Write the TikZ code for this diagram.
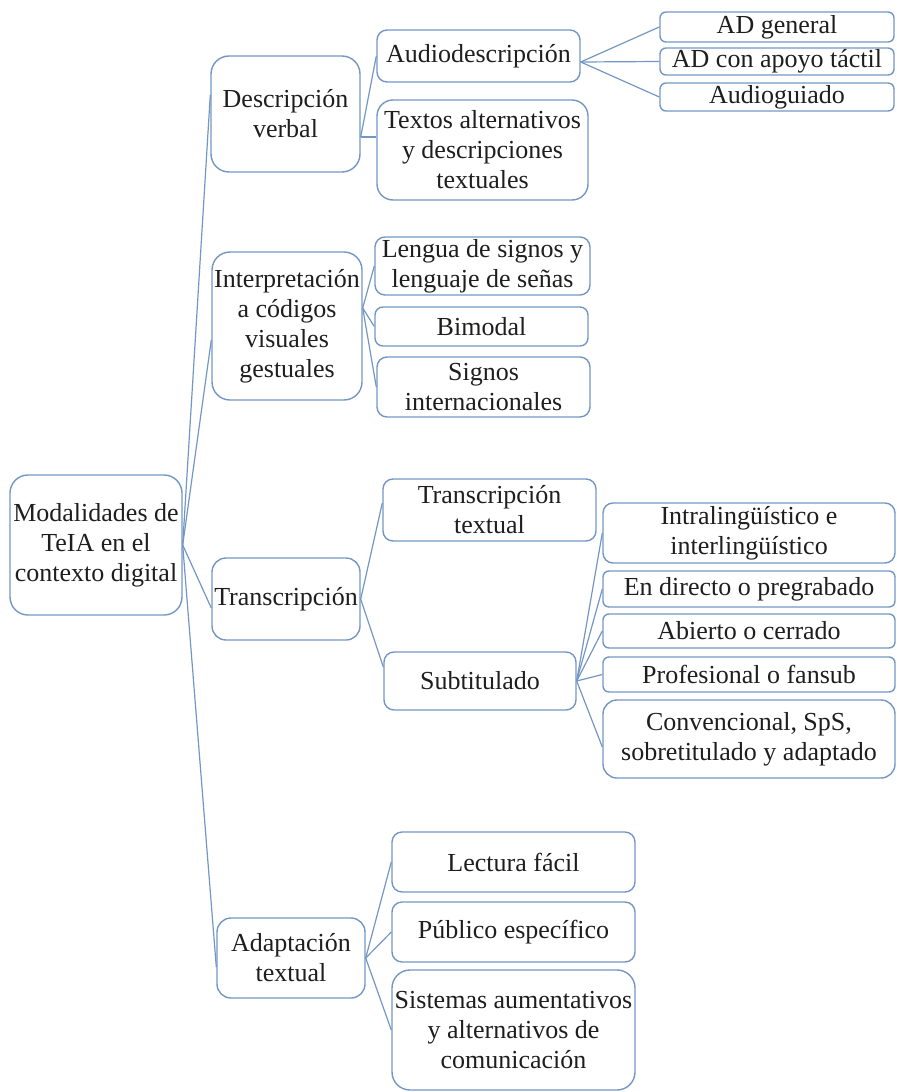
\documentclass[tikz,border=0pt]{standalone}
\usepackage{fontspec}
\setmainfont{Liberation Serif}
\definecolor{lineblue}{RGB}{115,150,196}
\definecolor{txtgray}{RGB}{30,30,30}
\tikzset{
  box/.style={draw=lineblue, line width=0.7pt, rounded corners=#1, inner sep=0pt, align=center, text=txtgray, font=\fontsize{13}{15}\selectfont},
  box/.default=4pt,
  conn/.style={draw=lineblue, line width=0.6pt}
}
\begin{document}
\begin{tikzpicture}[x=0.5pt, y=-0.5pt]
            \useasboundingbox (0,0) rectangle (897,1092);
            \node[box=9pt, minimum width=86pt, minimum height=70pt] (root) at (96,545) {Modalidades de\\TeIA en el\\contexto digital};
            \node[box=9pt, minimum width=74.5pt, minimum height=58pt] (dv) at (285.5,114) {Descripción\\verbal};
            \node[box=9pt, minimum width=75pt, minimum height=74pt] (interp) at (287,326) {Interpretación\\a códigos\\visuales\\gestuales};
            \node[box=7pt, minimum width=74pt, minimum height=41pt] (trans) at (286,599) {Transcripción};
            \node[box=7pt, minimum width=74pt, minimum height=40pt] (adapt) at (291,958) {Adaptación\\textual};
            \node[box=5pt, minimum width=101.5pt, minimum height=26pt] (audio) at (478.5,56) {Audiodescripción};
            \node[box=8pt, minimum width=105.5pt, minimum height=50pt] (textos) at (482.5,150) {Textos alternativos\\y descripciones\\textuales};
            \node[box=5pt, minimum width=107.5pt, minimum height=29pt] (lengua) at (482.5,266) {Lengua de signos y\\lenguaje de señas};
            \node[box=4pt, minimum width=106.5pt, minimum height=19.5pt] (bimodal) at (481.5,326.5) {Bimodal};
            \node[box=5pt, minimum width=106.5pt, minimum height=30pt] (signos) at (483.5,387) {Signos\\internacionales};
            \node[box=5pt, minimum width=106.5pt, minimum height=31pt] (ttext) at (489.5,510) {Transcripción\\textual};
            \node[box=5pt, minimum width=96pt, minimum height=29pt] (subt) at (480,681) {Subtitulado};
            \node[box=5pt, minimum width=121.5pt, minimum height=30pt] (lectura) at (513.5,862) {Lectura fácil};
            \node[box=5pt, minimum width=121.5pt, minimum height=30pt] (publico) at (513.5,932) {Público específico};
            \node[box=9pt, minimum width=121.5pt, minimum height=60pt] (sistemas) at (513.5,1030) {Sistemas aumentativos\\y alternativos de\\comunicación};
            \node[box=3pt, minimum width=117pt, minimum height=15pt] (adgen) at (777,27) {AD general};
            \node[box=3pt, minimum width=117pt, minimum height=13.5pt] (adcon) at (777,61.5) {AD con apoyo táctil};
            \node[box=3pt, minimum width=117pt, minimum height=14pt] (audiog) at (777,97) {Audioguiado};
            \node[box=5pt, minimum width=146pt, minimum height=30pt] (intra) at (749,533) {Intralingüístico e\\interlingüístico};
            \node[box=3pt, minimum width=146pt, minimum height=18pt] (directo) at (749,589) {En directo o pregrabado};
            \node[box=3pt, minimum width=146pt, minimum height=17pt] (abierto) at (749,631) {Abierto o cerrado};
            \node[box=3pt, minimum width=146pt, minimum height=17.5pt] (prof) at (749,674.5) {Profesional o fansub};
            \node[box=7pt, minimum width=146pt, minimum height=39pt] (conv) at (749,739) {Convencional, SpS,\\sobretitulado y adaptado};
            \draw[conn] (root.east) -- ([yshift=9.5pt]dv.west);
            \draw[conn] (root.east) -- ([yshift=-7pt]interp.west);
            \draw[conn] (root.east) -- ([yshift=-4.5pt]trans.west);
            \draw[conn] (root.east) -- ([yshift=-4.5pt]adapt.west);
            \draw[conn] ([yshift=-11.5pt]dv.east) -- (audio.west);
            \draw[conn] ([yshift=-11.5pt]dv.east) -- ([yshift=6.5pt]textos.west);
            \draw[conn] ([yshift=9pt]interp.east) -- (lengua.west);
            \draw[conn] ([yshift=9pt]interp.east) -- (bimodal.west);
            \draw[conn] ([yshift=9pt]interp.east) -- (signos.west);
            \draw[conn] ([yshift=-3pt]audio.east) -- (adgen.west);
            \draw[conn] ([yshift=-3pt]audio.east) -- (adcon.west);
            \draw[conn] ([yshift=-3pt]audio.east) -- (audiog.west);
            \draw[conn] (trans.east) -- ([yshift=3.5pt]ttext.west);
            \draw[conn] (trans.east) -- ([yshift=7pt]subt.west);
            \draw[conn] (subt.east) -- (intra.west);
            \draw[conn] (subt.east) -- (directo.west);
            \draw[conn] (subt.east) -- (abierto.west);
            \draw[conn] (subt.east) -- (prof.west);
            \draw[conn] (subt.east) -- ([yshift=-4pt]conv.west);
            \draw[conn] (adapt.east) -- (lectura.west);
            \draw[conn] (adapt.east) -- (publico.west);
            \draw[conn] (adapt.east) -- (sistemas.west);
        \end{tikzpicture}
\end{document}
